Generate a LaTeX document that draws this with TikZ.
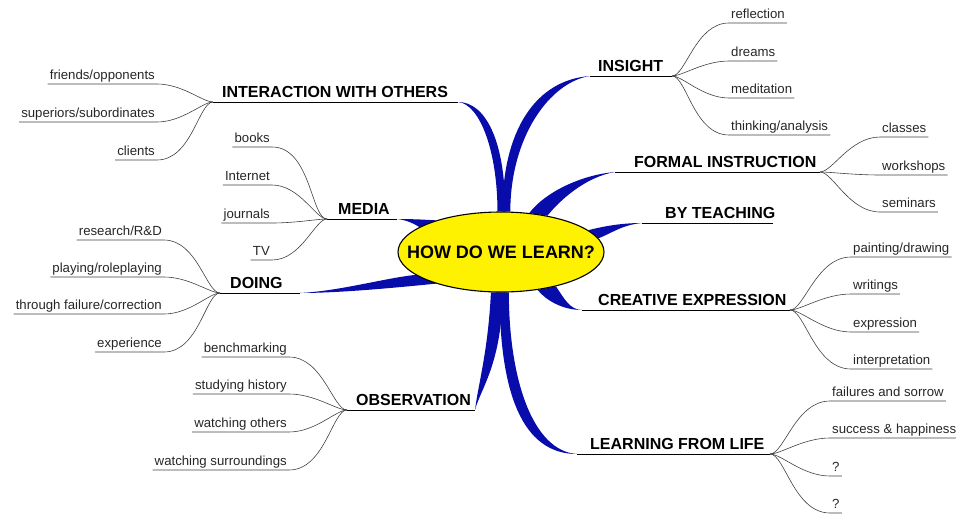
\documentclass[tikz,border=0pt]{standalone}
\usepackage{fontspec}
\setmainfont{Liberation Sans}
\usetikzlibrary{shapes.geometric,backgrounds}
\definecolor{branchblue}{RGB}{8,12,170}

\begin{document}
\begin{tikzpicture}[x=1pt,y=-1pt]
\tikzstyle{root}=[draw,shape=ellipse,fill=yellow,line width=1.1pt,minimum width=206pt,minimum height=80pt,inner xsep=-30pt,inner ysep=0pt,font=\fontsize{18}{20}\selectfont\bfseries];
\tikzstyle{topic}=[anchor=base west,inner sep=0pt,font=\fontsize{16}{18}\selectfont\bfseries];
\tikzstyle{leaf}=[inner xsep=2pt,inner ysep=1pt,text depth=3pt,text=black!85,font=\fontsize{13.2}{16}\selectfont];
\tikzstyle{twig}=[draw=black!75,line width=0.6pt];
\tikzstyle{fanout}=[out=0,in=180,out looseness=0.45,in looseness=1.1];
\tikzstyle{fanin}=[out=0,in=180,out looseness=1.1,in looseness=0.45];
\tikzstyle{stem}=[draw,line width=0.9pt];
\tikzstyle{branch}=[fill=branchblue];
\useasboundingbox (0,0) rectangle (956,514);

\node[root] (root) at (501,252) {HOW DO WE LEARN?};

\node[topic] (inter) at (222,97) {INTERACTION WITH OTHERS};
\coordinate (inter-hub) at (213,102); \coordinate (inter-tip) at (458,102);
\node[topic] (media) at (338,214) {MEDIA};
\coordinate (media-hub) at (327,219); \coordinate (media-tip) at (397,219);
\node[topic] (doing) at (230,288) {DOING};
\coordinate (doing-hub) at (220,293); \coordinate (doing-tip) at (300,293);
\node[topic] (obs) at (356,405) {OBSERVATION};
\coordinate (obs-hub) at (347,410); \coordinate (obs-tip) at (475,410);
\node[topic] (insight) at (598,71) {INSIGHT};
\coordinate (insight-tip) at (590,76); \coordinate (insight-hub) at (672,76);
\node[topic] (formal) at (634,167) {FORMAL INSTRUCTION};
\coordinate (formal-tip) at (615,172); \coordinate (formal-hub) at (820,172);
\node[topic] (teach) at (665,218) {BY TEACHING};
\coordinate (teach-tip) at (642,223); \coordinate (teach-end) at (773,223);
\node[topic] (creative) at (598,305) {CREATIVE EXPRESSION};
\coordinate (creative-tip) at (582,310); \coordinate (creative-hub) at (790,310);
\node[topic] (life) at (590,449) {LEARNING FROM LIFE};
\coordinate (life-tip) at (577,454); \coordinate (life-hub) at (770,454);

\node[leaf,anchor=south west] (refl) at (729,23) {reflection};
\node[leaf,anchor=south west] (dreams) at (729,61) {dreams};
\node[leaf,anchor=south west] (medit) at (729,98) {meditation};
\node[leaf,anchor=south west] (think) at (729,135) {thinking/analysis};
\node[leaf,anchor=south west] (classes) at (880,137) {classes};
\node[leaf,anchor=south west] (workshops) at (880,175) {workshops};
\node[leaf,anchor=south west] (seminars) at (880,212) {seminars};
\node[leaf,anchor=south west] (paint) at (851,257) {painting/drawing};
\node[leaf,anchor=south west] (writ) at (851,294) {writings};
\node[leaf,anchor=south west] (expr) at (851,332) {expression};
\node[leaf,anchor=south west] (interp) at (851,369) {interpretation};
\node[leaf,anchor=south west] (fail) at (830,401) {failures and sorrow};
\node[leaf,anchor=south west] (succ) at (830,438) {success \& happiness};
\node[leaf,anchor=south west] (q-one) at (830,476) {?};
\node[leaf,anchor=south west] (q-two) at (830,513) {?};

\node[leaf,anchor=south east] (friends) at (157,84) {friends/opponents};
\node[leaf,anchor=south east] (superiors) at (157,122) {superiors/subordinates};
\node[leaf,anchor=south east] (clients) at (157,160) {clients};
\node[leaf,anchor=south east] (books) at (272,147) {books};
\node[leaf,anchor=south east] (internet) at (272,185) {Internet};
\node[leaf,anchor=south east] (journals) at (272,223) {journals};
\node[leaf,anchor=south east] (tv) at (272,260) {TV};
\node[leaf,anchor=south east] (research) at (164,240) {research/R\&D};
\node[leaf,anchor=south east] (playing) at (164,277) {playing/roleplaying};
\node[leaf,anchor=south east] (failure) at (164,314) {through failure/correction};
\node[leaf,anchor=south east] (experience) at (164,352) {experience};
\node[leaf,anchor=south east] (bench) at (289,357) {benchmarking};
\node[leaf,anchor=south east] (history) at (289,394) {studying history};
\node[leaf,anchor=south east] (others) at (289,432) {watching others};
\node[leaf,anchor=south east] (surround) at (289,470) {watching surroundings};

\draw[stem] (inter-hub) -- (inter-tip);
\draw[stem] (media-hub) -- (media-tip);
\draw[stem] (doing-hub) -- (doing-tip);
\draw[stem] (obs-hub) -- (obs-tip);
\draw[stem] (insight-tip) -- (insight-hub);
\draw[stem] (formal-tip) -- (formal-hub);
\draw[stem] (teach-tip) -- (teach-end);
\draw[stem] (creative-tip) -- (creative-hub);
\draw[stem] (life-tip) -- (life-hub);

\draw[twig] (insight-hub) to[fanout] (refl.south west) -- (refl.south east);
\draw[twig] (insight-hub) to[fanout] (dreams.south west) -- (dreams.south east);
\draw[twig] (insight-hub) to[fanout] (medit.south west) -- (medit.south east);
\draw[twig] (insight-hub) to[fanout] (think.south west) -- (think.south east);
\draw[twig] (formal-hub) to[fanout] (classes.south west) -- (classes.south east);
\draw[twig] (formal-hub) to[fanout] (workshops.south west) -- (workshops.south east);
\draw[twig] (formal-hub) to[fanout] (seminars.south west) -- (seminars.south east);
\draw[twig] (creative-hub) to[fanout] (paint.south west) -- (paint.south east);
\draw[twig] (creative-hub) to[fanout] (writ.south west) -- (writ.south east);
\draw[twig] (creative-hub) to[fanout] (expr.south west) -- (expr.south east);
\draw[twig] (creative-hub) to[fanout] (interp.south west) -- (interp.south east);
\draw[twig] (life-hub) to[fanout] (fail.south west) -- (fail.south east);
\draw[twig] (life-hub) to[fanout] (succ.south west) -- (succ.south east);
\draw[twig] (life-hub) to[fanout] (q-one.south west) -- (q-one.south east);
\draw[twig] (life-hub) to[fanout] (q-two.south west) -- (q-two.south east);

\draw[twig] (friends.south west) -- (friends.south east) to[fanin] (inter-hub);
\draw[twig] (superiors.south west) -- (superiors.south east) to[fanin] (inter-hub);
\draw[twig] (clients.south west) -- (clients.south east) to[fanin] (inter-hub);
\draw[twig] (books.south west) -- (books.south east) to[fanin] (media-hub);
\draw[twig] (internet.south west) -- (internet.south east) to[fanin] (media-hub);
\draw[twig] (journals.south west) -- (journals.south east) to[fanin] (media-hub);
\draw[twig] (tv.south west) -- (tv.south east) to[fanin] (media-hub);
\draw[twig] (research.south west) -- (research.south east) to[fanin] (doing-hub);
\draw[twig] (playing.south west) -- (playing.south east) to[fanin] (doing-hub);
\draw[twig] (failure.south west) -- (failure.south east) to[fanin] (doing-hub);
\draw[twig] (experience.south west) -- (experience.south east) to[fanin] (doing-hub);
\draw[twig] (bench.south west) -- (bench.south east) to[fanin] (obs-hub);
\draw[twig] (history.south west) -- (history.south east) to[fanin] (obs-hub);
\draw[twig] (others.south west) -- (others.south east) to[fanin] (obs-hub);
\draw[twig] (surround.south west) -- (surround.south east) to[fanin] (obs-hub);

% tapered blue branches behind the ellipse
\begin{scope}[on background layer]
\fill[branch] (root.95) .. controls +(0,-60) and +(22,2) .. (inter-tip) .. controls +(27,0) and +(0,-72) .. (root.84) -- cycle;
\fill[branch] (root.88) .. controls +(0,-80) and +(-55,4) .. (insight-tip) .. controls +(-40,6) and +(0,-75) .. (root.77) -- cycle;
\fill[branch] (root.54) .. controls +(15,-20) and +(-35,3) .. (formal-tip) .. controls +(-30,5) and +(12,-15) .. (root.38) -- cycle;
\fill[branch] (root.14) .. controls +(15,-4) and +(-20,0) .. (teach-tip) .. controls +(-20,2) and +(15,-6) .. (root.8) -- cycle;
\fill[branch] (root.328) .. controls +(8,12) and +(-12,0) .. (creative-tip) .. controls +(-20,0) and +(8,10) .. (root.314) -- cycle;
\fill[branch] (root.268) .. controls +(0,100) and +(-55,0) .. (life-tip) .. controls +(-45,-3) and +(0,85) .. (root.281) -- cycle;
\fill[branch] (root.256) .. controls +(-3,60) and +(3,-25) .. (obs-tip) .. controls +(5,-20) and +(0,70) .. (root.272) -- cycle;
\fill[branch] (root.195) .. controls +(-30,3) and +(40,-2) .. (doing-tip) .. controls +(40,0) and +(-40,4) .. (root.206) -- cycle;
\fill[branch] (root.154) .. controls +(-15,-1) and +(12,0) .. (media-tip) .. controls +(10,1) and +(-5,-3) .. (root.163) -- cycle;
\end{scope}
\end{tikzpicture}
\end{document}
